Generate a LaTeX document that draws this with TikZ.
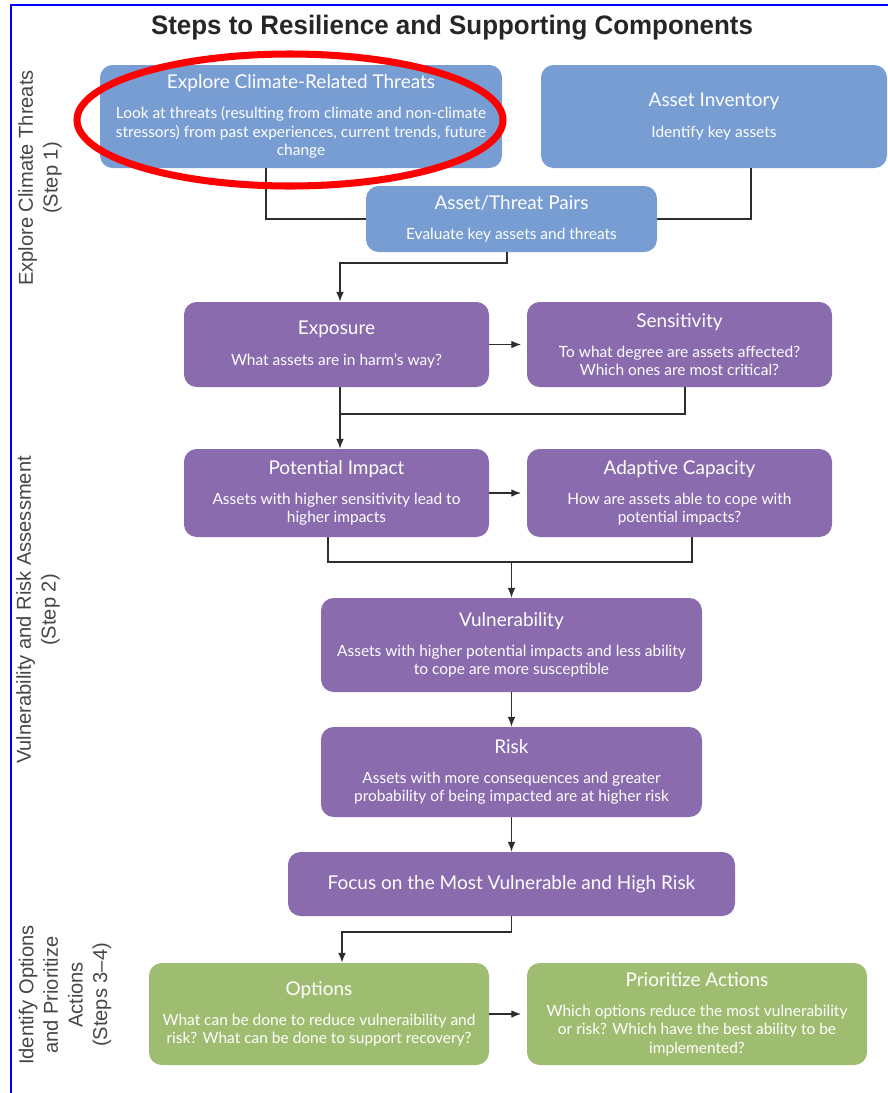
\documentclass[tikz,border=0pt]{standalone}
\usepackage{fontspec}
\setmainfont{Lato}
\newfontfamily\labelfont[Ligatures=TeX]{Liberation Sans}
\usetikzlibrary{arrows.meta}
\definecolor{threatblue}{RGB}{120,157,211}
\definecolor{assesspurple}{RGB}{137,107,174}
\definecolor{actiongreen}{RGB}{159,189,112}
\definecolor{wire}{RGB}{45,45,45}
\definecolor{sidegray}{RGB}{70,70,70}
\newcommand{\boxtext}[2]{{\fontsize{13.5}{15}\selectfont #1}\\[8.5pt]#2}

\begin{document}
\begin{tikzpicture}[x=0.025cm,y=-0.025cm,
  card/.style 2 args={rounded corners=9pt, text=white, align=center, inner sep=0pt,
    font=\fontsize{11}{13}\selectfont,
    minimum width=#1*0.025cm, minimum height=#2*0.025cm},
  threat/.style={fill=threatblue},
  assess/.style={fill=assesspurple},
  action/.style={fill=actiongreen},
  line/.style={draw=wire, line width=1pt},
  arrow/.style={line, -{Latex[length=7pt,width=5.5pt]}},
  side/.style={rotate=90, align=center, text=sidegray,
    font=\labelfont\fontsize{14.3}{17.5}\selectfont},
]
\useasboundingbox (0,0) rectangle (888,1093);
\draw[blue, line width=2pt] (11,1093) -- (11,5) -- (888,5);

\node[font=\labelfont\bfseries\fontsize{19}{22}\selectfont, text=black!85] (title) at (452,28)
  {\scalebox{0.97}[1]{Steps to Resilience and Supporting Components}};

\node[side] (step1) at (40,178) {Explore Climate Threats\\(Step 1)};
\node[side] (step2) at (38,610) {Vulnerability and Risk Assessment\\(Step 2)};
\node[side] (step3) at (65,995) {Identify Options\\and Prioritize\\Actions\\(Steps 3–4)};

\node[card={402}{103}, threat] (threats) at (301,116.5)
  {\boxtext{Explore Climate-Related Threats}{Look at threats (resulting from climate and non-climate\\stressors) from past experiences, current trends, future\\change}};
\node[card={346}{103}, threat] (inventory) at (714,116.5)
  {\boxtext{Asset Inventory}{Identify key assets}};
\node[card={291}{66}, threat] (pairs) at (511.5,219)
  {\boxtext{Asset/Threat Pairs}{Evaluate key assets and threats}};
\node[card={305}{85}, assess] (exposure) at (336.5,344.5)
  {\boxtext{Exposure}{What assets are in harm’s way?}};
\node[card={305}{85}, assess] (sensitivity) at (679.5,344.5)
  {\boxtext{Sensitivity}{To what degree are assets affected?\\Which ones are most critical?}};
\node[card={305}{88}, assess] (impact) at (336.5,493)
  {\boxtext{Potential Impact}{Assets with higher sensitivity lead to\\higher impacts}};
\node[card={305}{88}, assess] (capacity) at (679.5,493)
  {\boxtext{Adaptive Capacity}{How are assets able to cope with\\potential impacts?}};
\node[card={381}{94}, assess] (vulner) at (511.5,645)
  {\boxtext{Vulnerability}{Assets with higher potential impacts and less ability\\to cope are more susceptible}};
\node[card={381}{90}, assess] (risk) at (511.5,772)
  {\boxtext{Risk}{Assets with more consequences and greater\\probability of being impacted are at higher risk}};
\node[card={447}{64}, assess, font=\fontsize{13.5}{15}\selectfont] (focus) at (511.5,884)
  {Focus on the Most Vulnerable and High Risk};
\node[card={340}{102}, action] (options) at (319,1014)
  {\boxtext{Options}{What can be done to reduce vulneraibility and\\risk? What can be done to support recovery?}};
\node[card={340}{102}, action] (prior) at (697,1014)
  {\boxtext{Prioritize Actions}{Which options reduce the most vulnerability\\or risk? Which have the best ability to be\\implemented?}};

\coordinate (tj) at (266,0);
\coordinate (ij) at (751,0);
\coordinate (pa) at (507,263);
\coordinate (pb) at (340,263);
\coordinate (sa) at (685,0);
\coordinate (sb) at (340,414);
\coordinate (ia) at (328,562);
\coordinate (ib) at (692,562);
\coordinate (fa) at (342,932);

\draw[line] (threats.south -| tj) |- (pairs.west);
\draw[line] (inventory.south -| ij) |- (pairs.east);
\draw[arrow] (pairs.south -| pa) -- (pa) -- (pb) -- (exposure.north -| pb);
\draw[arrow, shorten >=4pt] (exposure.east) -- (sensitivity.west);
\draw[arrow] (exposure.south -| pb) -- (impact.north -| pb);
\draw[line] (sensitivity.south -| sa) |- (sb);
\draw[arrow, shorten >=4pt] (impact.east) -- (capacity.west);
\draw[line] (impact.south -| ia) -- (ia) -- (ib) -- (capacity.south -| ib);
\draw[arrow] (vulner.north |- ia) -- (vulner.north);
\draw[arrow] (vulner.south) -- (risk.north);
\draw[arrow] (risk.south) -- (focus.north);
\draw[arrow] (focus.south) |- (fa) -- (options.north -| fa);
\draw[arrow, shorten >=4pt] (options.east) -- (prior.west);

\draw[red, line width=5pt] (290,120) ellipse [x radius=213, y radius=66];
\end{tikzpicture}
\end{document}
